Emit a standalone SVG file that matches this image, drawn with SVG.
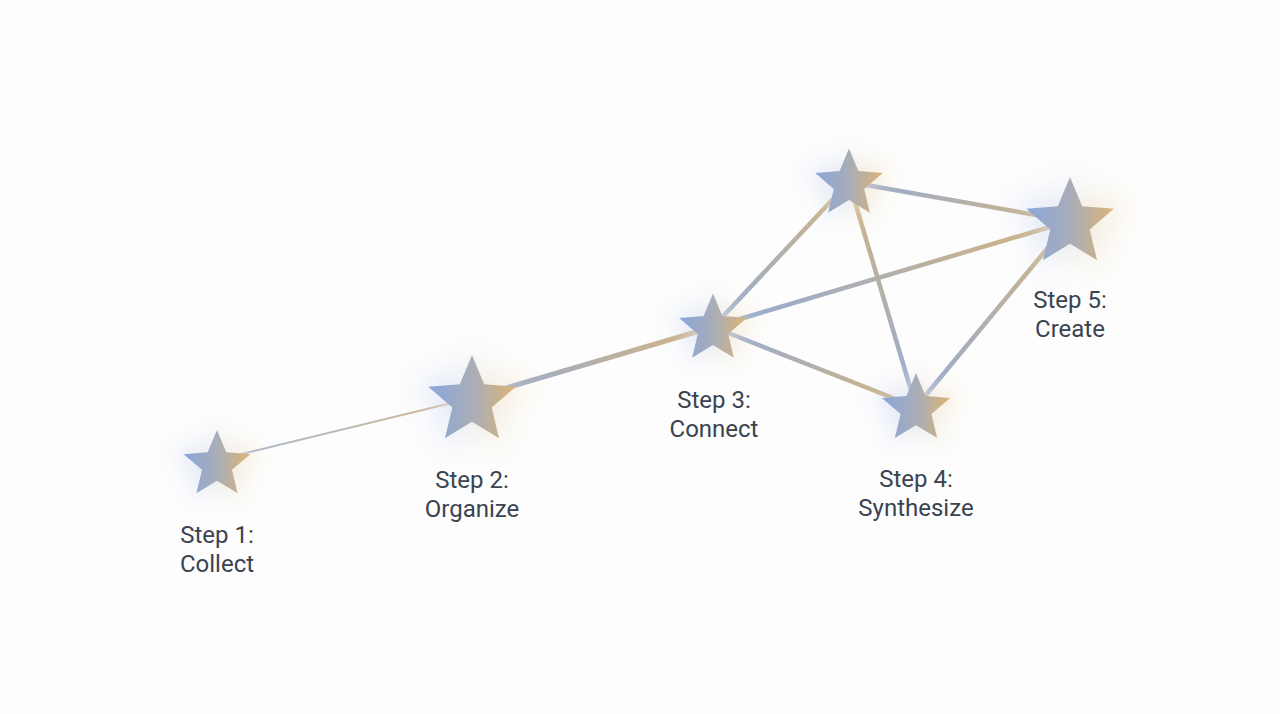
<svg xmlns="http://www.w3.org/2000/svg" width="1280" height="714" viewBox="0 0 1280 714">
<style>
.lbl{font-family:Roboto,"Liberation Sans",sans-serif;font-size:24px;fill:#3a4350;text-anchor:middle}
.edge{fill:none;stroke-linecap:round}
.glow{opacity:0.8}
</style>
<defs>
<path id="star" d="M0,-100 L26.45,-36.4 L95.11,-30.9 L42.8,13.9 L58.78,80.9 L0,45 L-58.78,80.9 L-42.8,13.9 L-95.11,-30.9 L-26.45,-36.4Z"/>
<linearGradient id="sg" x1="0" y1="0" x2="1" y2="0">
<stop offset="0" stop-color="#8aa6dc"/>
<stop offset="0.5" stop-color="#a8adb8"/>
<stop offset="1" stop-color="#dcb477"/>
</linearGradient>
<linearGradient id="gg" x1="0" y1="0" x2="1" y2="0">
<stop offset="0" stop-color="#9db8f0"/>
<stop offset="0.5" stop-color="#eceef2"/>
<stop offset="1" stop-color="#f4cc78"/>
</linearGradient>
<filter id="glow" x="-100%" y="-100%" width="300%" height="300%">
<feGaussianBlur stdDeviation="30"/>
</filter>
<linearGradient id="e12" gradientUnits="userSpaceOnUse" x1="217" y1="460" x2="472" y2="398"><stop offset="0" stop-color="#a4b6d8"/><stop offset="1" stop-color="#d4bb8a"/></linearGradient>
<linearGradient id="e23" gradientUnits="userSpaceOnUse" x1="472" y1="398" x2="713" y2="327"><stop offset="0" stop-color="#92abd8"/><stop offset="1" stop-color="#d6b57c"/></linearGradient>
<linearGradient id="e3t" gradientUnits="userSpaceOnUse" x1="713" y1="327" x2="849" y2="182"><stop offset="0" stop-color="#92abd8"/><stop offset="1" stop-color="#d6b57c"/></linearGradient>
<linearGradient id="et4" gradientUnits="userSpaceOnUse" x1="849" y1="182" x2="916" y2="407"><stop offset="0" stop-color="#d6b57c"/><stop offset="1" stop-color="#92abd8"/></linearGradient>
<linearGradient id="et5" gradientUnits="userSpaceOnUse" x1="849" y1="182" x2="1070" y2="221"><stop offset="0" stop-color="#92abd8"/><stop offset="1" stop-color="#d6b57c"/></linearGradient>
<linearGradient id="e35" gradientUnits="userSpaceOnUse" x1="713" y1="327" x2="1070" y2="221"><stop offset="0" stop-color="#92abd8"/><stop offset="1" stop-color="#d6b57c"/></linearGradient>
<linearGradient id="e34" gradientUnits="userSpaceOnUse" x1="713" y1="327" x2="916" y2="407"><stop offset="0" stop-color="#92abd8"/><stop offset="1" stop-color="#d6b57c"/></linearGradient>
<linearGradient id="e45" gradientUnits="userSpaceOnUse" x1="916" y1="407" x2="1070" y2="221"><stop offset="0" stop-color="#92abd8"/><stop offset="1" stop-color="#d6b57c"/></linearGradient>
</defs>
<rect width="1280" height="714" fill="#fdfdfd"/>
<g id="connectors">
<line class="edge" x1="217" y1="460" x2="472" y2="398" stroke="url(#e12)" stroke-width="2"/>
<line class="edge" x1="472" y1="398" x2="713" y2="327" stroke="url(#e23)" stroke-width="5"/>
<line class="edge" x1="713" y1="327" x2="849" y2="182" stroke="url(#e3t)" stroke-width="4.5"/>
<line class="edge" x1="849" y1="182" x2="916" y2="407" stroke="url(#et4)" stroke-width="4.5"/>
<line class="edge" x1="849" y1="182" x2="1070" y2="221" stroke="url(#et5)" stroke-width="4.5"/>
<line class="edge" x1="713" y1="327" x2="1070" y2="221" stroke="url(#e35)" stroke-width="4.5"/>
<line class="edge" x1="713" y1="327" x2="916" y2="407" stroke="url(#e34)" stroke-width="4.5"/>
<line class="edge" x1="916" y1="407" x2="1070" y2="221" stroke="url(#e45)" stroke-width="4.5"/>
</g>
<g id="step1">
<use class="glow" href="#star" transform="translate(217,465) scale(0.42)" fill="url(#gg)" filter="url(#glow)"/>
<use href="#star" transform="translate(217,465) scale(0.35)" fill="url(#sg)"/>
<text class="lbl" x="217" y="543">Step 1:</text>
<text class="lbl" x="217" y="572">Collect</text>
</g>
<g id="step2">
<use class="glow" href="#star" transform="translate(472,401) scale(0.55)" fill="url(#gg)" filter="url(#glow)"/>
<use href="#star" transform="translate(472,401) scale(0.46)" fill="url(#sg)"/>
<text class="lbl" x="472" y="488">Step 2:</text>
<text class="lbl" x="472" y="517">Organize</text>
</g>
<g id="step3">
<use class="glow" href="#star" transform="translate(713,329) scale(0.42)" fill="url(#gg)" filter="url(#glow)"/>
<use href="#star" transform="translate(713,329) scale(0.355)" fill="url(#sg)"/>
<text class="lbl" x="714" y="408">Step 3:</text>
<text class="lbl" x="714" y="437">Connect</text>
</g>
<g id="step3b">
<use class="glow" href="#star" transform="translate(849,184) scale(0.42)" fill="url(#gg)" filter="url(#glow)"/>
<use href="#star" transform="translate(849,184) scale(0.355)" fill="url(#sg)"/>
</g>
<g id="step4">
<use class="glow" href="#star" transform="translate(916,409) scale(0.43)" fill="url(#gg)" filter="url(#glow)"/>
<use href="#star" transform="translate(916,409) scale(0.36)" fill="url(#sg)"/>
<text class="lbl" x="916" y="487">Step 4:</text>
<text class="lbl" x="916" y="516">Synthesize</text>
</g>
<g id="step5">
<use class="glow" href="#star" transform="translate(1070,223) scale(0.55)" fill="url(#gg)" filter="url(#glow)"/>
<use href="#star" transform="translate(1070,223) scale(0.46)" fill="url(#sg)"/>
<text class="lbl" x="1070" y="308">Step 5:</text>
<text class="lbl" x="1070" y="337">Create</text>
</g>
</svg>
